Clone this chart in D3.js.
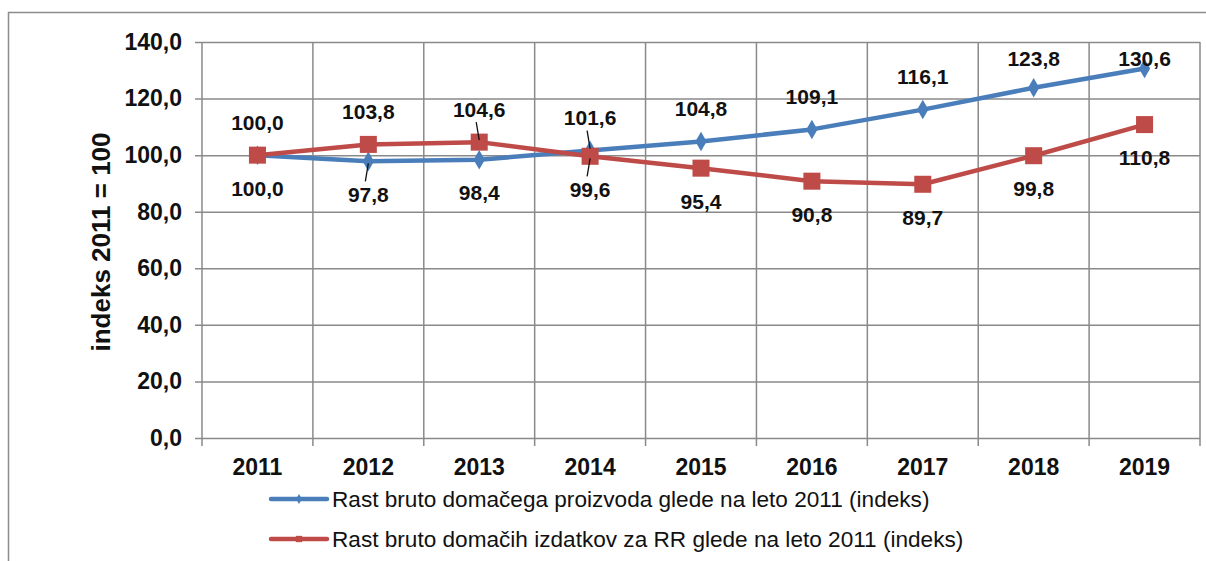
<!DOCTYPE html>
<html>
<head>
<meta charset="utf-8">
<script src="https://cdn.jsdelivr.net/npm/d3@7"></script>
<style>
  body { margin: 0; background: #fff; }
  text { font-family: "Liberation Sans", Arial, sans-serif; }
</style>
</head>
<body>
<div id="chart"></div>
<script>
// data
var years = ["2011", "2012", "2013", "2014", "2015", "2016", "2017", "2018", "2019"];
var bdp = [100.0, 97.8, 98.4, 101.6, 104.8, 109.1, 116.1, 123.8, 130.6];
var rr = [100.0, 103.8, 104.6, 99.6, 95.4, 90.8, 89.7, 99.8, 110.8];
var yTicks = [0, 20, 40, 60, 80, 100, 120, 140];
var bdpName = "Rast bruto domačega proizvoda glede na leto 2011 (indeks)";
var rrName = "Rast bruto domačih izdatkov za RR glede na leto 2011 (indeks)";
var yTitle = "indeks 2011 = 100";
// where the value labels sit (1 = above, -1 = below) and which have a leader line
var bdpSide = [-1, -1, -1, 1, 1, 1, 1, 1, 1];
var rrSide = [1, 1, 1, -1, -1, -1, -1, -1, -1];
var bdpLeader = [0, 1, 0, 1, 0, 0, 0, 0, 0];
var rrLeader = [0, 0, 1, 1, 0, 0, 0, 0, 0];

var W = 1206, H = 561;
var margin = { top: 42, right: 6, bottom: 123, left: 202 };
var width = W - margin.left - margin.right,
    height = H - margin.top - margin.bottom;

var blue = "#4a7ebb", red = "#be4b48", grid = "#8a8a8a";
var fmt = function (v) { return d3.format(".1f")(v).replace(".", ","); };

var svg = d3.select("#chart").append("svg")
    .attr("width", W).attr("height", H);

// outer chart border
svg.append("rect")
    .attr("x", 8.5).attr("y", 12.5)
    .attr("width", W).attr("height", H)
    .attr("fill", "none").attr("stroke", "#8c8c8c").attr("stroke-width", 1.5);

var g = svg.append("g")
    .attr("transform", "translate(" + margin.left + "," + margin.top + ")");

var x = d3.scaleBand().domain(years).range([0, width]);
var y = d3.scaleLinear().domain([0, 140]).range([height, 0]);
var cx = function (d, i) { return x(years[i]) + x.bandwidth() / 2; };

// horizontal grid + y axis
var yAxis = g.append("g")
    .call(d3.axisLeft(y).tickValues(yTicks).tickSize(-width).tickPadding(20).tickFormat(fmt));
yAxis.select(".domain").remove();
yAxis.selectAll(".tick line").attr("stroke", grid).attr("stroke-width", 1.5).attr("x1", -7);
yAxis.selectAll(".tick text")
    .attr("font-size", 23).attr("font-weight", "bold").attr("fill", "#111")
    .attr("font-family", "Liberation Sans, Arial, sans-serif");

// vertical grid lines at category boundaries
var bounds = years.map(function (d) { return x(d); }).concat([width]);
g.selectAll(".vgrid").data(bounds).enter().append("line")
    .attr("x1", function (d) { return d; }).attr("x2", function (d) { return d; })
    .attr("y1", 0).attr("y2", height + 8)
    .attr("stroke", grid).attr("stroke-width", 1.5);

// x labels
var xAxis = g.append("g")
    .attr("transform", "translate(0," + height + ")")
    .call(d3.axisBottom(x).tickSize(0).tickPadding(21));
xAxis.select(".domain").remove();
xAxis.selectAll(".tick text")
    .attr("font-size", 23).attr("font-weight", "bold").attr("fill", "#111")
    .attr("font-family", "Liberation Sans, Arial, sans-serif");

// y title
svg.append("text")
    .attr("transform", "translate(110," + (margin.top + y(70) + 2) + ") rotate(-90)")
    .attr("text-anchor", "middle")
    .attr("font-size", 26).attr("font-weight", "bold").attr("fill", "#111")
    .text(yTitle);

var line = d3.line().x(cx).y(function (d) { return y(d); });

function drawSeries(vals, color, shape, size) {
    g.append("path").datum(vals)
        .attr("fill", "none").attr("stroke", color).attr("stroke-width", 4.5)
        .attr("stroke-linejoin", "round")
        .attr("d", line);
    g.selectAll(null).data(vals).enter().append("path")
        .attr("transform", function (d, i) { return "translate(" + cx(d, i) + "," + y(d) + ")"; })
        .attr("d", d3.symbol().type(shape).size(size))
        .attr("fill", color);
}

drawSeries(bdp, blue, d3.symbolDiamond, 110);
drawSeries(rr, red, d3.symbolSquare, 290);

function drawLabels(vals, side, leader) {
    var lab = g.append("g");
    vals.forEach(function (v, i) {
        var px = cx(v, i), py = y(v);
        var ly = py - side[i] * 33;
        if (ly < 16) ly = 16;
        if (leader[i]) {
            lab.append("line")
                .attr("x1", px).attr("y1", py - side[i] * 2)
                .attr("x2", px - 3).attr("y2", ly + side[i] * 13)
                .attr("stroke", "#111").attr("stroke-width", 1.3);
        }
        lab.append("text")
            .attr("x", px).attr("y", ly)
            .attr("dy", "0.36em")
            .attr("text-anchor", "middle")
            .attr("font-size", 21).attr("font-weight", "bold").attr("fill", "#111")
            .text(fmt(v));
    });
}

drawLabels(bdp, bdpSide, bdpLeader);
drawLabels(rr, rrSide, rrLeader);

// legend
var legend = svg.append("g").attr("transform", "translate(271,0)");
var items = [
    { name: bdpName, color: blue, shape: d3.symbolDiamond, size: 30, y: 499 },
    { name: rrName, color: red, shape: d3.symbolSquare, size: 40, y: 539 }
];
items.forEach(function (it) {
    legend.append("line")
        .attr("x1", 0).attr("x2", 56).attr("y1", it.y).attr("y2", it.y)
        .attr("stroke", it.color).attr("stroke-width", 4.5).attr("stroke-linecap", "round");
    legend.append("path")
        .attr("transform", "translate(28," + it.y + ")")
        .attr("d", d3.symbol().type(it.shape).size(it.size))
        .attr("fill", it.color);
    legend.append("text")
        .attr("x", 61).attr("y", it.y).attr("dy", "0.36em")
        .attr("font-size", 22.6).attr("fill", "#111")
        .text(it.name);
});
</script>
</body>
</html>
